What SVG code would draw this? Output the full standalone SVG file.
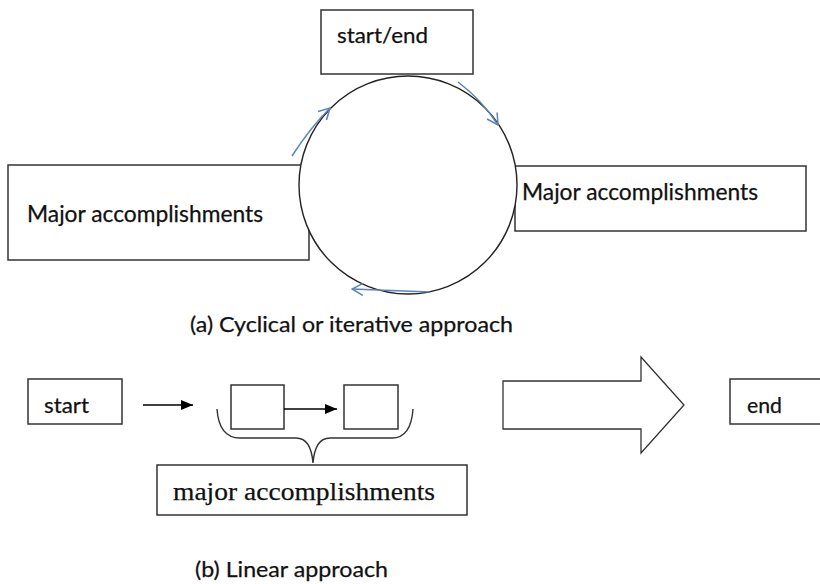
<svg xmlns="http://www.w3.org/2000/svg" width="820" height="584" viewBox="0 0 820 584">
  <style>
    .box { fill: #fff; stroke: #333; stroke-width: 1.5; }
    .lbl { font-family: Lato, "Open Sans", sans-serif; fill: #111; stroke: #111; stroke-width: 0.25; }
    .serif { font-family: "Liberation Serif", "Times New Roman", serif; fill: #111; stroke: #111; stroke-width: 0.25; }
    .cyc { fill: none; stroke: #5b84b8; stroke-width: 1.5; marker-end: url(#open); }
    .lin { stroke: #000; stroke-width: 1.5; marker-end: url(#solid); }
  </style>
  <defs>
    <marker id="open" viewBox="0 0 14 14" refX="13" refY="7" markerWidth="14" markerHeight="14" markerUnits="userSpaceOnUse" orient="auto">
      <path d="M2,1 L13,7 L2,13" fill="none" stroke="#5b84b8" stroke-width="1.5"/>
    </marker>
    <marker id="solid" viewBox="0 0 12 12" refX="12" refY="6" markerWidth="12" markerHeight="12" markerUnits="userSpaceOnUse" orient="auto">
      <path d="M0,1 L12,6 L0,11 Z" fill="#000"/>
    </marker>
  </defs>

  <!-- (a) cyclical approach -->
  <g id="left-accomplishments">
    <rect class="box" x="8" y="165" width="301" height="95"/>
    <text class="lbl" x="27" y="222" font-size="23" textLength="236" lengthAdjust="spacingAndGlyphs">Major accomplishments</text>
  </g>
  <g id="right-accomplishments">
    <rect class="box" x="515" y="166" width="291" height="65"/>
    <text class="lbl" x="522" y="200" font-size="23" textLength="236" lengthAdjust="spacingAndGlyphs">Major accomplishments</text>
  </g>
  <g id="cycle">
    <circle cx="408" cy="185" r="109" fill="#fff" stroke="#222" stroke-width="1.4"/>
  </g>
  <g id="start-end">
    <rect class="box" x="321" y="10" width="152" height="64"/>
    <text class="lbl" x="337" y="43" font-size="21" textLength="91" lengthAdjust="spacingAndGlyphs">start/end</text>
  </g>
  <g id="cycle-arrows">
    <path class="cyc" d="M292,156 Q310,128 330,108"/>
    <path class="cyc" d="M458,82 Q482,100 498,125"/>
    <path class="cyc" d="M430,292 L352,289"/>
  </g>
  <text class="lbl" x="190" y="332" font-size="22" textLength="323" lengthAdjust="spacingAndGlyphs">(a) Cyclical or iterative  approach</text>

  <!-- (b) linear approach -->
  <g id="start">
    <rect class="box" x="28" y="379" width="94" height="45"/>
    <text class="lbl" x="44" y="413" font-size="21" textLength="45" lengthAdjust="spacingAndGlyphs">start</text>
  </g>
  <g id="step1"><rect class="box" x="231" y="385" width="53" height="44"/></g>
  <g id="step2"><rect class="box" x="344" y="385" width="54" height="44"/></g>
  <g id="major">
    <rect class="box" x="157" y="465" width="310" height="50"/>
    <text class="serif" x="173" y="500" font-size="26" textLength="262" lengthAdjust="spacingAndGlyphs">major accomplishments</text>
  </g>
  <g id="big-arrow">
    <polygon points="503,381 641,381 641,357 684,405 641,453 641,429 503,429" fill="#fff" stroke="#333" stroke-width="1.3"/>
  </g>
  <g id="end">
    <rect class="box" x="730" y="379" width="95" height="45"/>
    <text class="lbl" x="747" y="413" font-size="21" textLength="35" lengthAdjust="spacingAndGlyphs">end</text>
  </g>
  <g id="connectors">
    <line class="lin" x1="143" y1="405" x2="193" y2="405"/>
    <line class="lin" x1="284" y1="409" x2="337" y2="409"/>
    <path d="M217,409 Q219,438 240,438 L296,438 Q311,438 313,463 Q315,438 330,438 L392,438 Q411,438 413,409" fill="none" stroke="#333" stroke-width="1.4"/>
  </g>
  <text class="lbl" x="195" y="577" font-size="22" textLength="193" lengthAdjust="spacingAndGlyphs">(b) Linear approach</text>
</svg>
